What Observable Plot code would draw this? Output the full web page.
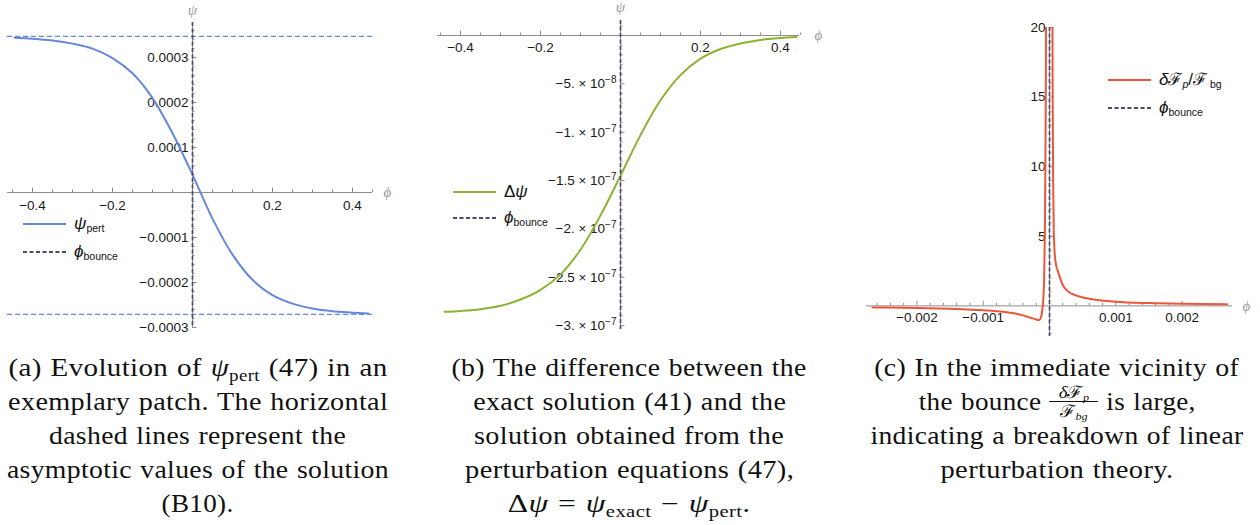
<!DOCTYPE html>
<html><head><meta charset="utf-8">
<script src="https://cdn.jsdelivr.net/npm/d3@7"></script>
<script src="https://cdn.jsdelivr.net/npm/@observablehq/plot@0.6"></script>
<style>
body{margin:0;background:#fff;}
#page{position:relative;width:1260px;height:525px;overflow:hidden;background:#fff;font-family:"Liberation Sans",Arial,sans-serif;}
.panel{position:absolute;top:0;}
.lg{position:absolute;height:20px;line-height:20px;white-space:nowrap;color:#111;font-size:17px;}
.lg svg{position:absolute;left:0;top:0;}
.lg span{position:absolute;top:0;}
.lg sub{font-size:10.5px;vertical-align:-3px;line-height:0;font-style:normal;}
.cap{position:absolute;top:351px;width:460px;text-align:center;font-family:"Liberation Serif",serif;font-size:24.5px;color:#111;letter-spacing:0.3px;word-spacing:1px;}
.cap > div{height:34px;line-height:34px;white-space:nowrap;}
.cap > div > span{display:inline-block;transform-origin:50% 50%;}
.cap sub{font-size:16px;vertical-align:-5px;line-height:0;}
.frac{display:inline-block;position:relative;width:44px;height:10px;}
.frac .num,.frac .den{position:absolute;left:0;width:44px;text-align:center;font-size:17px;line-height:17px;letter-spacing:0;}
.frac .num{top:-16px;border-bottom:1px solid #111;}
.frac .den{top:3px;}
.frac sub{font-size:11px;vertical-align:-3px;}
</style></head><body><div id="page">
<div id="pa" class="panel" style="left:0"></div>
<div id="pb" class="panel" style="left:420px"></div>
<div id="pc" class="panel" style="left:840px"></div>
<div class="cap" data-center="198">
<div data-w="379"><span>(a) Evolution of <i>ψ</i><sub>pert</sub> (47) in an</span></div>
<div data-w="380"><span>exemplary patch. The horizontal</span></div>
<div data-w="297"><span>dashed lines represent the</span></div>
<div data-w="382"><span>asymptotic values of the solution</span></div>
<div data-w="72"><span>(B10).</span></div>
</div>
<div class="cap" data-center="629.5">
<div data-w="355"><span>(b) The difference between the</span></div>
<div data-w="313"><span>exact solution (41) and the</span></div>
<div data-w="310"><span>solution obtained from the</span></div>
<div data-w="329"><span>perturbation equations (47),</span></div>
<div data-w="243"><span>Δ<i>ψ</i> = <i>ψ</i><sub>exact</sub> − <i>ψ</i><sub>pert</sub>.</span></div>
</div>
<div class="cap" data-center="1057">
<div data-w="365"><span>(c) In the immediate vicinity of</span></div>
<div data-w="277"><span>the bounce <span class="frac"><span class="num"><i>δ</i>ℱ<sub><i>p</i></sub></span><span class="den">ℱ<sub><i>bg</i></sub></span></span> is large,</span></div>
<div data-w="373"><span>indicating a breakdown of linear</span></div>
<div data-w="233"><span>perturbation theory.</span></div>
</div>
</div>
<script>
// ---------- data ----------
// (a) psi_pert vs phi
const phiA = [-0.445, -0.40, -0.35, -0.30, -0.25, -0.20, -0.15, -0.10, -0.05, 0, 0.05, 0.10, 0.15, 0.20, 0.25, 0.30, 0.35, 0.40, 0.44];
const psiPert = [0.000344, 0.000342, 0.000338, 0.000331, 0.000320, 0.000299, 0.000265, 0.000210, 0.000132, 0.000040, -0.000058, -0.000138, -0.000194, -0.000228, -0.000247, -0.000258, -0.000264, -0.000267, -0.000269];
const psiAsymptotes = [0.000347, -0.000271];
const phiBounce = 0;
// (b) delta psi vs phi
const phiB = [-0.44, -0.40, -0.35, -0.30, -0.25, -0.20, -0.15, -0.10, -0.05, 0, 0.05, 0.10, 0.15, 0.20, 0.25, 0.30, 0.35, 0.40, 0.44];
const deltaPsi = [-2.857e-7, -2.848e-7, -2.830e-7, -2.795e-7, -2.73e-7, -2.63e-7, -2.47e-7, -2.215e-7, -1.86e-7, -1.45e-7, -1.03e-7, -6.7e-8, -4.1e-8, -2.4e-8, -1.4e-8, -8.2e-9, -4.6e-9, -2.6e-9, -1.6e-9];
// (c) delta F_p / F_bg vs phi
const phiC = [-0.00267, -0.0025, -0.002, -0.0015, -0.001, -0.0007, -0.0005, -0.0004, -0.0003, -0.0002, -0.00016, -0.00013, -0.00011, -0.000095, -0.00008, -0.00007, -0.000056, -0.00005, 0.00004, 0.000048, 0.000055, 0.000065, 0.00009, 0.00014, 0.0002, 0.00027, 0.0004, 0.00052, 0.0007, 0.001, 0.0015, 0.002, 0.00268];
const dFratio = [-0.11, -0.12, -0.15, -0.21, -0.31, -0.42, -0.56, -0.68, -0.83, -0.98, -1.03, -0.85, -0.35, 0.36, 2.2, 5.2, 14.7, 24, 26, 15, 9, 5.2, 3.2, 2.3, 1.5, 1.08, 0.75, 0.58, 0.44, 0.30, 0.20, 0.15, 0.12];

// ticks and labels
const xTicksAB = [-0.4, -0.2, 0.2, 0.4];
const xLabelsAB = ["−0.4", "−0.2", "0.2", "0.4"];
const yTicksA = [-0.0003, -0.0002, -0.0001, 0.0001, 0.0002, 0.0003];
const yLabelsA = ["−0.0003", "−0.0002", "−0.0001", "0.0001", "0.0002", "0.0003"];
const yTicksB = [-5e-8, -1e-7, -1.5e-7, -2e-7, -2.5e-7, -3e-7];
const yMantB = ["−5.", "−1.", "−1.5", "−2.", "−2.5", "−3."];
const yExpB = ["−8", "−7", "−7", "−7", "−7", "−7"];
const xTicksC = [-0.002, -0.001, 0.001, 0.002];
const xLabelsC = ["−0.002", "−0.001", "0.001", "0.002"];
const yTicksC = [5, 10, 15, 20];
const yLabelsC = ["5", "10", "15", "20"];

// minor tick positions
const near = (a, list) => list.some(b => Math.abs(a - b) < 1e-12);
const minor = (lo, hi, step, major) => d3.range(Math.round((hi - lo) / step) + 1).map(i => lo + i * step).filter(v => Math.abs(v) > step / 2 && !near(Math.round(v / step) * step, major.map(m => Math.round(m / step) * step)));
const xMinorAB = minor(-0.45, 0.45, 0.05, xTicksAB);
const yMinorA = minor(-0.0003, 0.00036, 0.00002, yTicksA);
const yMinorB = minor(-3e-7, 1e-8, 1e-8, yTicksB);
const xMinorC = minor(-0.0026, 0.0026, 0.0002, xTicksC);
const yMinorC = minor(-2, 19, 1, yTicksC);

// ---------- styles ----------
const BLUE = "#6489da", GREEN = "#8db232", RED = "#ec573a", BOUNCE = "#4a4a72", AXIS = "#8c8c8c", LABEL = "#1a1a1a";
const W = 420, H = 340;

function panel(cfg) {
  const {ml, mr, mt, mb, xDomain, yDomain} = cfg;
  const kX = (W - ml - mr) / (xDomain[1] - xDomain[0]);
  const kY = (H - mt - mb) / (yDomain[1] - yDomain[0]);
  const marks = [
    ...cfg.under,
    Plot.ruleY([0], {stroke: AXIS, strokeWidth: 1}),
    Plot.ruleX([0], {stroke: AXIS, strokeWidth: 1}),
    Plot.ruleX(cfg.xMinor, {x: d => d, y1: 0, y2: 2.5 / kY, stroke: AXIS}),
    Plot.ruleX(cfg.xTicks, {x: d => d, y1: 0, y2: 4.5 / kY, stroke: AXIS}),
    Plot.ruleY(cfg.yMinor, {y: d => d, x1: 0, x2: 2.5 / kX, stroke: AXIS}),
    Plot.ruleY(cfg.yTicks, {y: d => d, x1: 0, x2: 4.5 / kX, stroke: AXIS}),
    Plot.text(cfg.xTicks, {x: d => d, y: 0, text: (d, i) => cfg.xLabels[i], dy: cfg.xdy, fill: LABEL, fontSize: 13.5}),
    Plot.text(cfg.yTicks, {x: 0, y: d => d, text: (d, i) => cfg.yLabels[i], dx: -4, textAnchor: "end", fill: LABEL, fontSize: 13.5, className: "ylab"}),
    Plot.text(["ϕ"], {x: xDomain[1], y: 0, text: d => d, dx: cfg.phiDx, textAnchor: "start", fill: "#999", fontSize: 15, fontStyle: "italic", fontFamily: "Liberation Serif"}),
    ...(cfg.psiLabel ? [Plot.text(["ψ"], {x: 0, y: yDomain[1], text: d => d, dy: cfg.psiDy, fill: "#999", fontSize: 15, fontStyle: "italic", fontFamily: "Liberation Serif"})] : []),
    ...cfg.over
  ];
  return Plot.plot({
    width: W, height: H, marginLeft: ml, marginRight: mr, marginTop: mt, marginBottom: mb,
    x: {domain: xDomain, axis: null}, y: {domain: yDomain, axis: null},
    style: {fontFamily: "Liberation Sans, Arial, sans-serif", fontSize: "13px", background: "none", overflow: "visible"},
    marks
  });
}

const bounceRule = () => Plot.ruleX([phiBounce], {stroke: BOUNCE, strokeWidth: 1.7, strokeDasharray: "4,2.5"});

const dataA = phiA.map((p, i) => ({phi: p, v: psiPert[i]}));
const dataB = phiB.map((p, i) => ({phi: p, v: deltaPsi[i]}));
const dataC = phiC.map((p, i) => ({phi: p, v: dFratio[i]}));

const svgA = panel({
  ml: 7, mr: 48, mt: 22, mb: 13, xDomain: [-0.4625, 0.45], yDomain: [-0.0003, 0.000378],
  xTicks: xTicksAB, xLabels: xLabelsAB, xMinor: xMinorAB, yTicks: yTicksA, yLabels: yLabelsA, yMinor: yMinorA,
  xdy: 13, phiDx: 11, psiLabel: true, psiDy: -12,
  under: [Plot.ruleY(psiAsymptotes, {stroke: BLUE, strokeWidth: 1.3, strokeDasharray: "5,3"})],
  over: [Plot.line(dataA, {x: "phi", y: "v", curve: "catmull-rom", stroke: BLUE, strokeWidth: 2}), bounceRule()]
});
document.getElementById("pa").append(svgA);

const svgB = panel({
  ml: 17, mr: 41, mt: 20, mb: 11, xDomain: [-0.4575, 0.4475], yDomain: [-3.04e-7, 1.55e-8],
  xTicks: xTicksAB, xLabels: xLabelsAB, xMinor: xMinorAB, yTicks: yTicksB, yLabels: yMantB.map(m => m + " × 10"), yMinor: yMinorB,
  xdy: 12, phiDx: 15, psiLabel: true, psiDy: -13,
  under: [],
  over: [Plot.line(dataB, {x: "phi", y: "v", curve: "catmull-rom", stroke: GREEN, strokeWidth: 2}), bounceRule()]
});
d3.select(svgB).selectAll("g.ylab text").each(function(d, i) {
  d3.select(this).append("tspan").attr("dy", "-0.5em").attr("font-size", "10px").text(yExpB[i]);
});
document.getElementById("pb").append(svgB);

const svgC = panel({
  ml: 26, mr: 28, mt: 27, mb: 4, xDomain: [-0.00276, 0.00276], yDomain: [-2.2, 20],
  xTicks: xTicksC, xLabels: xLabelsC, xMinor: xMinorC, yTicks: yTicksC, yLabels: yLabelsC, yMinor: yMinorC,
  xdy: 12, phiDx: 10, psiLabel: false,
  under: [],
  over: [Plot.line(dataC, {x: "phi", y: "v", curve: "monotone-x", stroke: RED, strokeWidth: 2, clip: true}), bounceRule()]
});
document.getElementById("pc").append(svgC);

// ---------- legends ----------
function legend(left, items) {
  const page = document.getElementById("page");
  for (const it of items) {
    const row = document.createElement("div");
    row.className = "lg";
    row.style.left = left + "px";
    row.style.top = (it.y - 10) + "px";
    row.innerHTML = `<svg width="44" height="20"><line x1="0" x2="43" y1="10" y2="10" stroke="${it.color}" stroke-width="${it.dash ? 1.8 : 2}" ${it.dash ? 'stroke-dasharray="4,2.5"' : ""}/></svg><span style="left:51px">${it.html}</span>`;
    page.append(row);
  }
}
legend(23, [
  {y: 224, color: BLUE, html: "<i>ψ</i><sub>pert</sub>"},
  {y: 252, color: BOUNCE, dash: true, html: "<i>ϕ</i><sub>bounce</sub>"}
]);
legend(453, [
  {y: 192, color: GREEN, html: "Δ<i>ψ</i>"},
  {y: 218, color: BOUNCE, dash: true, html: "<i>ϕ</i><sub>bounce</sub>"}
]);
legend(1108, [
  {y: 80, color: RED, html: "<i>δ</i>ℱ<sub><i>p</i></sub>/ℱ<sub style='margin-left:3px'>bg</sub>"},
  {y: 108, color: BOUNCE, dash: true, html: "<i>ϕ</i><sub>bounce</sub>"}
]);

// ---------- caption fitting: stretch each line to the reference line width ----------
for (const cap of document.querySelectorAll(".cap")) {
  cap.style.left = (+cap.dataset.center - 230) + "px";
  for (const line of cap.children) {
    const span = line.firstElementChild;
    const natural = span.getBoundingClientRect().width;
    span.style.transform = `scaleX(${(+line.dataset.w) / natural})`;
  }
}
</script>
</body></html>
